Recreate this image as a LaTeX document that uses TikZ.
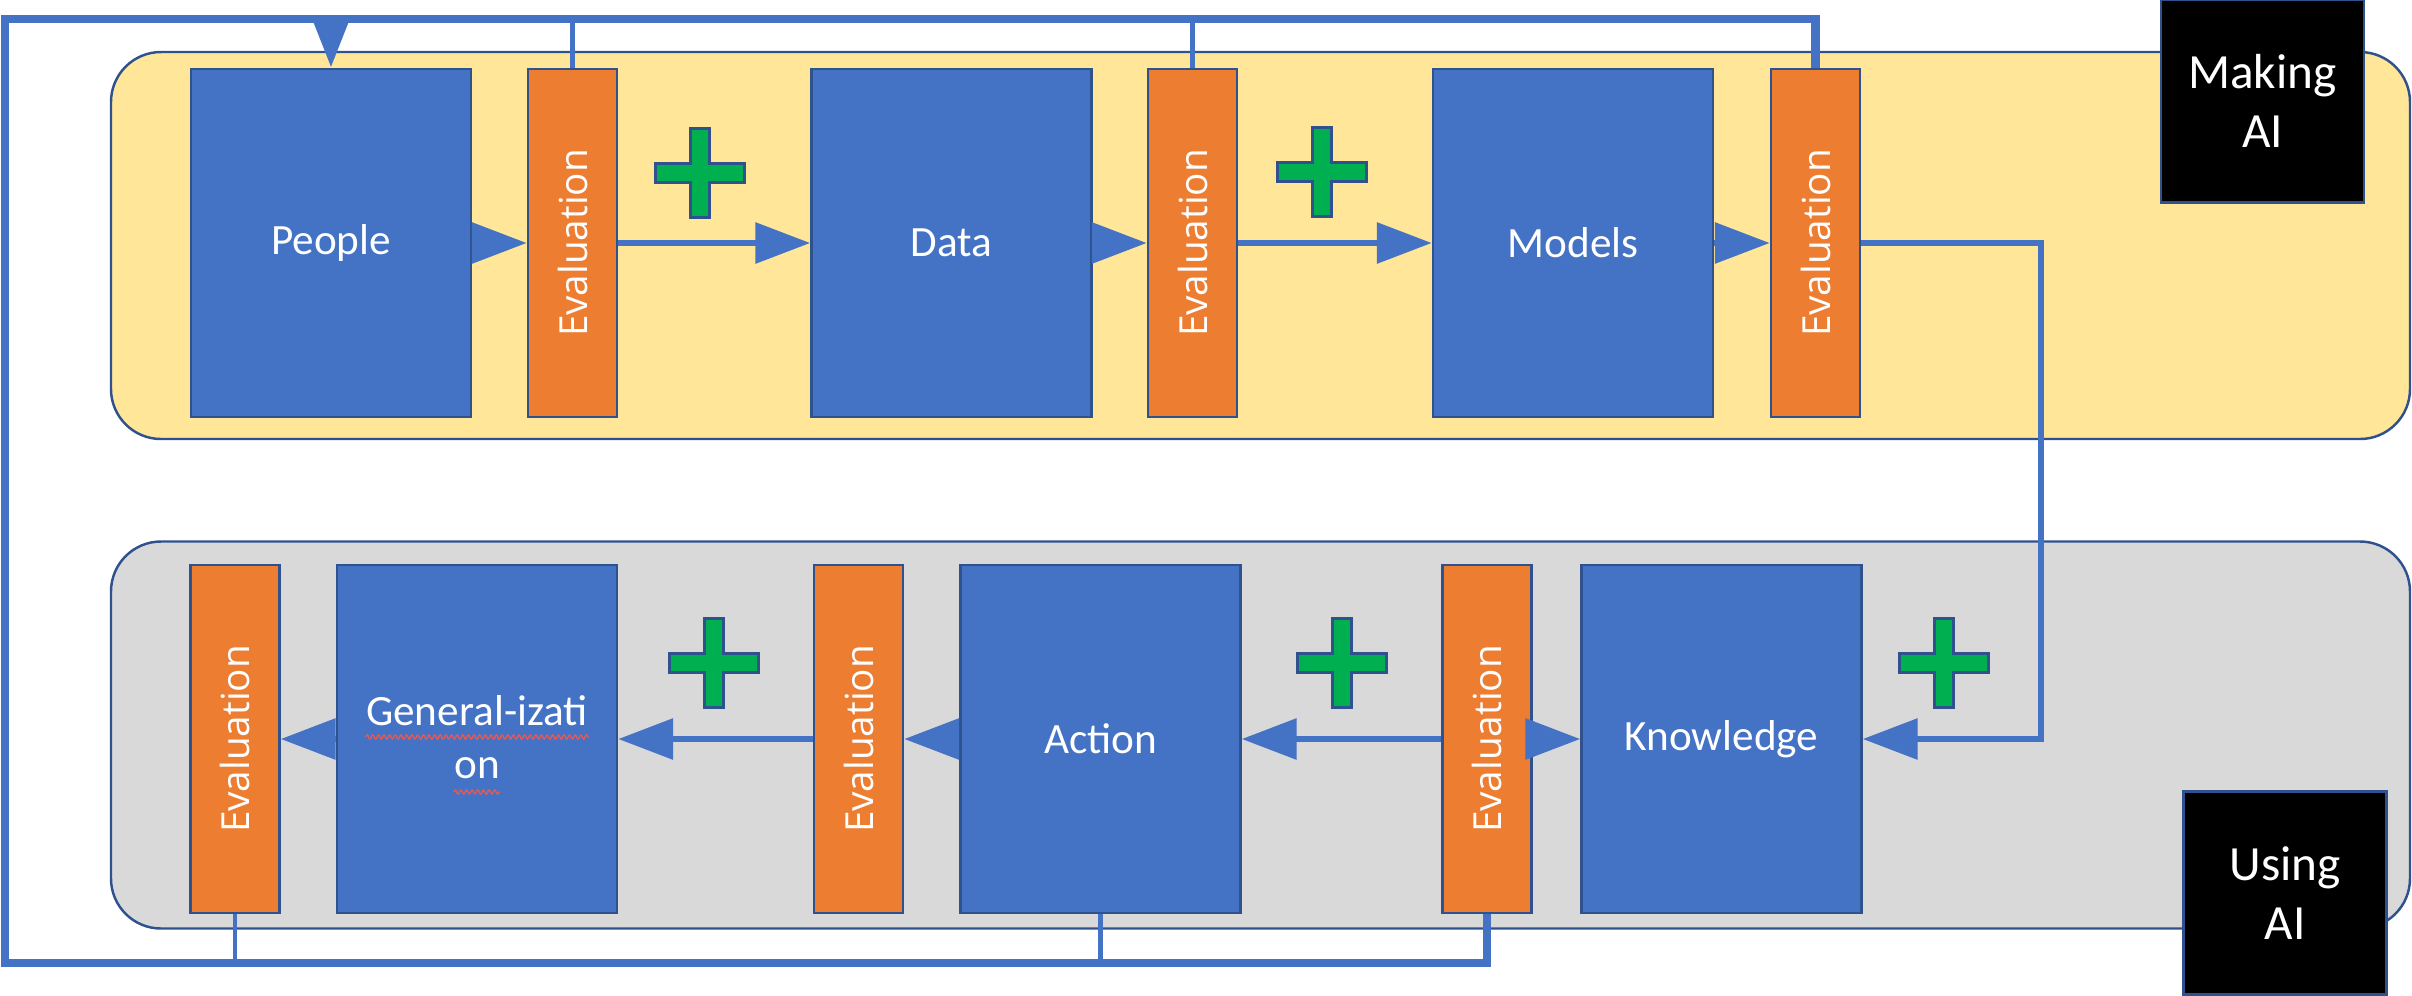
\documentclass[tikz,border=0pt]{standalone}
\usepackage{fontspec}
\setmainfont{Carlito}
\newfontfamily\evalfont{Open Sans}
\usetikzlibrary{arrows.meta,decorations.pathmorphing}
\definecolor{boxblue}{HTML}{4472C4}
\definecolor{edgeblue}{HTML}{2F528F}
\definecolor{evalorange}{HTML}{ED7D31}
\definecolor{makeyellow}{HTML}{FFE699}
\definecolor{usegray}{HTML}{D9D9D9}
\definecolor{plusgreen}{HTML}{00B050}
\definecolor{spellred}{HTML}{E05A5A}
\newcommand{\evaltext}{\rotatebox{90}{\evalfont\fontsize{11}{13}\selectfont Evaluation}}
\newcommand{\plusmark}[1]{\draw[plussign] (#1) ++(-0.095,-0.445) -- ++(0.19,0) -- ++(0,0.35) -- ++(0.35,0) -- ++(0,0.19) -- ++(-0.35,0) -- ++(0,0.35) -- ++(-0.19,0) -- ++(0,-0.35) -- ++(-0.35,0) -- ++(0,-0.19) -- ++(0.35,0) -- cycle;}

\begin{document}
\begin{tikzpicture}[
  x=1cm, y=-1cm,
  font=\fontsize{12.3}{14.8}\selectfont,
  band/.style={draw=edgeblue, line width=0.7pt, rounded corners=5mm, minimum width=22.99cm, minimum height=3.87cm},
  stage/.style={draw=edgeblue, line width=0.7pt, fill=boxblue, text=white, minimum width=2.8cm, minimum height=3.48cm, inner sep=0pt},
  evalbar/.style={draw=edgeblue, line width=0.7pt, fill=evalorange, text=white, minimum width=0.89cm, minimum height=3.48cm, inner sep=0pt},
  tag/.style={draw=edgeblue, line width=0.7pt, fill=black, text=white, align=center, font=\fontsize{14}{17}\selectfont, minimum width=2.03cm, minimum height=2.03cm},
  lbl/.style={text=white, inner sep=0pt, anchor=base},
  flow/.style={draw=boxblue, line width=1.8pt, -{Triangle[length=5.5mm, width=4mm]}},
  loopline/.style={draw=boxblue, line width=2.5pt},
  tap/.style={draw=boxblue, line width=1.4pt},
  plussign/.style={draw=edgeblue, line width=0.6pt, fill=plusgreen},
  spell/.style={draw=spellred, line width=0.4pt, decorate, decoration={snake, amplitude=0.6pt, segment length=1.6pt}},
]
\useasboundingbox (0,0) rectangle (24.12,9.95);

% the two bands
\node[band, fill=makeyellow] (making) at (12.605,2.455) {};
\node[band, fill=usegray] (using) at (12.605,7.35) {};
\node[tag] (maketag) at (22.625,1.01) {Making\\AI};
\node[tag] (usetag) at (22.85,8.93) {Using\\AI};

% making AI row
\node[stage] (people) at (3.31,2.43) {People};
\node[evalbar] (ev1) at (5.725,2.43) {\evaltext};
\node[stage] (data) at (9.515,2.43) {Data};
\node[evalbar] (ev2) at (11.925,2.43) {\evaltext};
\node[stage] (models) at (15.73,2.43) {Models};
\node[evalbar] (ev3) at (18.155,2.43) {\evaltext};

% using AI row
\node[evalbar] (evL) at (2.35,7.39) {\evaltext};
\node[stage] (gen) at (4.77,7.39) {};
\node[lbl] (gen1) at (4.77,7.25) {General-izati};
\node[lbl] (gen2) at (4.77,7.78) {on};
\node[evalbar] (evM) at (8.585,7.39) {\evaltext};
\node[stage] (act) at (11.005,7.39) {Action};
\node[evalbar] (evR) at (14.87,7.39) {\evaltext};
\node[stage] (know) at (17.215,7.39) {Knowledge};

\draw[spell] ([yshift=-1.2mm]gen1.base west) -- ([yshift=-1.2mm]gen1.base east);
\draw[spell] ([yshift=-1.4mm]gen2.base west) -- ([yshift=-1.4mm]gen2.base east);

% flow through the stages
\draw[flow] (people) -- (ev1);
\draw[flow] (ev1) -- (data);
\draw[flow] (data) -- (ev2);
\draw[flow] (ev2) -- (models);
\draw[flow] (models) -- (ev3);
\coordinate (turn) at (20.41,7.39);
\draw[flow] (ev3.east) -| (turn) -- (know.east);
\draw[flow] (evR) -- (know);
\draw[flow] (evR) -- (act);
\draw[flow] (act) -- (evM);
\draw[flow] (evM) -- (gen);
\draw[flow] (gen) -- (evL);

% feedback loop back to people
\coordinate (lt) at (0.05,0.19);
\coordinate (lb) at (0.05,9.63);
\draw[loopline] (evR.south) -- (evR.south |- lb) -- (lb) -- (lt) -- (ev3.north |- lt) -- (ev3.north);
\draw[tap] (ev1.north) -- (ev1.north |- lt);
\draw[tap] (ev2.north) -- (ev2.north |- lt);
\draw[tap] (act.south) -- (act.south |- lb);
\draw[tap] (evL.south) -- (evL.south |- lb);
\draw[loopline, -{Triangle[length=5mm, width=3.6mm]}] (people.north |- lt) -- (people.north);

% plus marks
\coordinate (plus1) at (7.00,1.73);
\coordinate (plus2) at (13.22,1.72);
\coordinate (plus3) at (7.14,6.63);
\coordinate (plus4) at (13.42,6.63);
\coordinate (plus5) at (19.44,6.63);
\plusmark{plus1}
\plusmark{plus2}
\plusmark{plus3}
\plusmark{plus4}
\plusmark{plus5}
\end{tikzpicture}
\end{document}
